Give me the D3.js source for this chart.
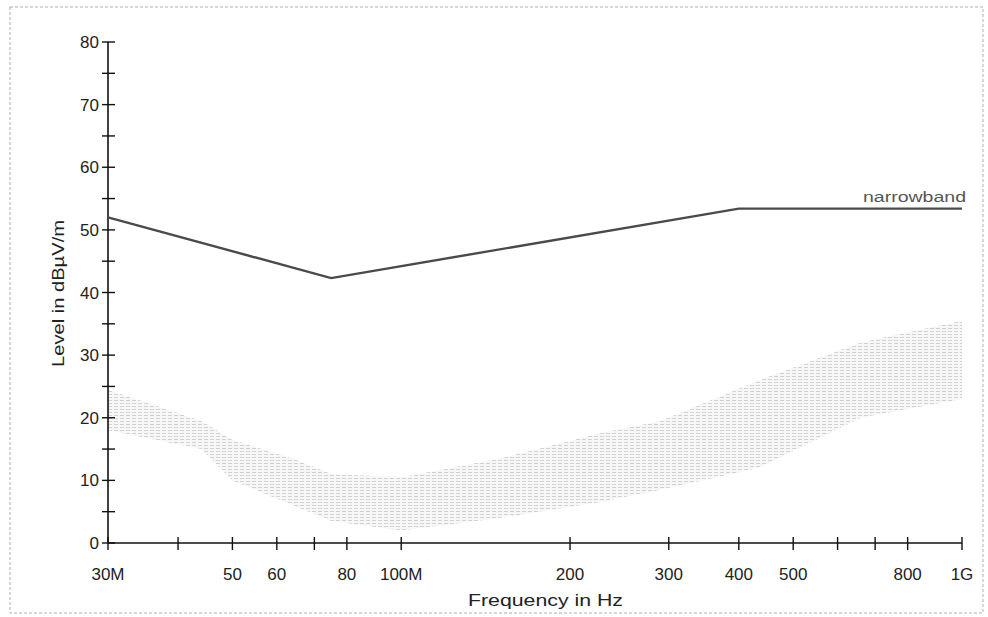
<!DOCTYPE html>
<html>
<head>
<meta charset="utf-8">
<script src="https://cdn.jsdelivr.net/npm/d3@7"></script>
<style>
  body { margin: 0; background: #fff; }
  text { font-family: "Liberation Sans", Arial, sans-serif; }
</style>
</head>
<body>
<div id="chart"></div>
<script>
// Limite "narrowband" (MHz, dBµV/m)
const limitFreq = [30, 75, 400, 1000];
const limitLevel = [52, 42.3, 53.4, 53.4];

const noiseFreq = [30, 44, 50, 65, 75, 100, 150, 225, 290, 435, 660, 1000];
const noiseUpper = [24.5, 19.5, 16.5, 13.3, 11, 10.5, 13.5, 17.5, 19.5, 26, 32, 35.5];
const noiseLower = [18, 15, 10, 5.8, 3.5, 2, 4, 6.5, 8.5, 12, 20, 23];

// Graduations
const xTicks = [30, 40, 50, 60, 70, 80, 100, 200, 300, 400, 500, 600, 700, 800, 1000];
const xTickLabels = { 30: "30M", 50: "50", 60: "60", 80: "80", 100: "100M", 200: "200", 300: "300", 400: "400", 500: "500", 800: "800", 1000: "1G" };
const yTicks = [0, 10, 20, 30, 40, 50, 60, 70, 80];
const yMinorTicks = [5, 15, 25, 35, 45, 55, 65, 75];

const width = 988, height = 617;

const svg = d3.select("#chart").append("svg")
    .attr("width", width)
    .attr("height", height);

// Cadre du scan
svg.append("rect")
    .attr("x", 10).attr("y", 7)
    .attr("width", 973).attr("height", 606)
    .attr("fill", "none")
    .attr("stroke", "#b0b0b0")
    .attr("stroke-dasharray", "3,2");

const x = d3.scaleLog().domain([30, 1000]).range([108, 962]);
const y = d3.scaleLinear().domain([0, 80]).range([543, 42]);

// Motif de hachures pour la bande de bruit
const defs = svg.append("defs");
const pat = defs.append("pattern")
    .attr("id", "hatch")
    .attr("patternUnits", "userSpaceOnUse")
    .attr("width", 6).attr("height", 3);
pat.append("rect").attr("width", 6).attr("height", 3).attr("fill", "#f7f7f7");
pat.append("line")
    .attr("x1", 0).attr("x2", 4)
    .attr("y1", 1.5).attr("y2", 1.5)
    .attr("stroke", "#d2d2d2")
    .attr("stroke-width", 1);

const noise = noiseFreq.map((f, i) => ({ f, lo: noiseLower[i], hi: noiseUpper[i] }));
const area = d3.area()
    .x(d => x(d.f))
    .y0(d => y(d.lo))
    .y1(d => y(d.hi));

svg.append("path")
    .datum(noise)
    .attr("d", area)
    .attr("fill", "url(#hatch)");

// Axes
const axisG = svg.append("g").attr("stroke", "#111");
axisG.append("line")
    .attr("x1", x(30)).attr("x2", x(30))
    .attr("y1", y(80)).attr("y2", y(0))
    .attr("stroke-width", 1.6);
axisG.append("line")
    .attr("x1", x(30)).attr("x2", x(1000))
    .attr("y1", y(0)).attr("y2", y(0))
    .attr("stroke-width", 1.6);

// Graduations Y (croisent l'axe)
axisG.selectAll(".ytick")
    .data(yTicks.concat(yMinorTicks))
    .enter().append("line")
    .attr("x1", x(30) - 6).attr("x2", x(30) + 7)
    .attr("y1", d => y(d)).attr("y2", d => y(d))
    .attr("stroke-width", 1.4);

svg.selectAll(".ylabel")
    .data(yTicks)
    .enter().append("text")
    .attr("x", x(30) - 9)
    .attr("y", d => y(d) + 6)
    .attr("text-anchor", "end")
    .attr("font-size", "17px")
    .attr("fill", "#222")
    .text(d => d);

// Graduations X
axisG.selectAll(".xtick")
    .data(xTicks)
    .enter().append("line")
    .attr("x1", d => x(d)).attr("x2", d => x(d))
    .attr("y1", y(0) - 6).attr("y2", y(0) + 7)
    .attr("stroke-width", 1.4);

svg.selectAll(".xlabel")
    .data(xTicks.filter(d => xTickLabels[d]))
    .enter().append("text")
    .attr("x", d => x(d))
    .attr("y", 580)
    .attr("text-anchor", "middle")
    .attr("font-size", "17px")
    .attr("fill", "#222")
    .text(d => xTickLabels[d]);

// Titres des axes
svg.append("text")
    .attr("x", 468).attr("y", 606)
    .attr("font-size", "17px")
    .attr("fill", "#222")
    .attr("textLength", 155)
    .attr("lengthAdjust", "spacingAndGlyphs")
    .text("Frequency in Hz");

svg.append("text")
    .attr("transform", "translate(64,367) rotate(-90)")
    .attr("font-size", "17px")
    .attr("fill", "#222")
    .attr("textLength", 147)
    .attr("lengthAdjust", "spacingAndGlyphs")
    .text("Level in dBµV/m");

// Ligne limite
const line = d3.line()
    .x((d, i) => x(limitFreq[i]))
    .y(d => y(d));

svg.append("path")
    .attr("d", line(limitLevel))
    .attr("fill", "none")
    .attr("stroke", "#4a4a4a")
    .attr("stroke-width", 2.4);

svg.append("text")
    .attr("x", 863).attr("y", 202)
    .attr("font-size", "14px")
    .attr("fill", "#555")
    .attr("textLength", 103)
    .attr("lengthAdjust", "spacingAndGlyphs")
    .text("narrowband");
</script>
</body>
</html>
